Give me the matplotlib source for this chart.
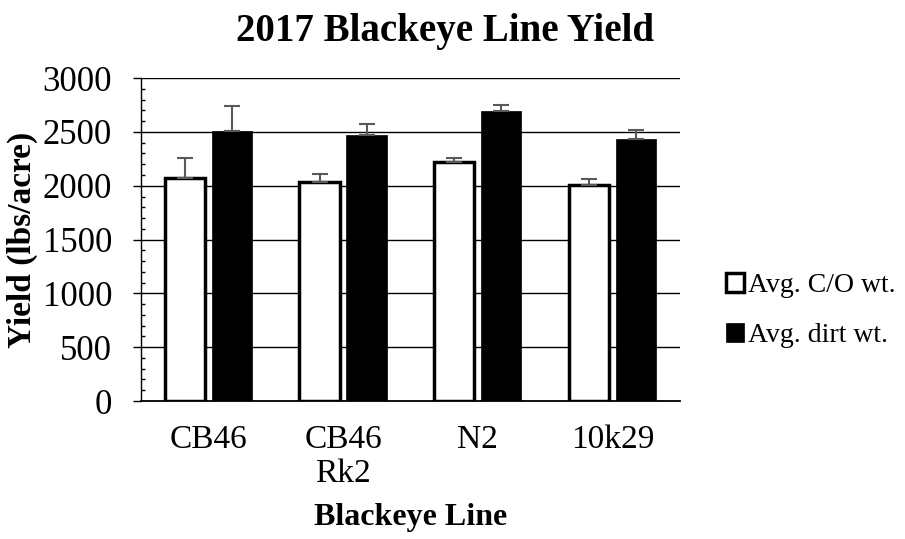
import matplotlib.pyplot as plt
import numpy as np
from matplotlib.ticker import MultipleLocator

plt.rcParams['font.family'] = ['Liberation Serif', 'DejaVu Serif']

lines = ['CB46', 'CB46\nRk2', 'N2', '10k29']
co_wt = [2070, 2036, 2222, 2006]
co_err = [190, 70, 35, 60]
dirt_wt = [2510, 2473, 2699, 2439]
dirt_err = [230, 100, 50, 75]

fig = plt.figure(figsize=(9.05, 5.39), dpi=100)
ax = fig.add_axes([0.156, 0.256, 0.595, 0.599])

x = np.arange(len(lines))
w = 0.3
off = 0.175
err_kw = dict(ecolor='#595959', elinewidth=1.5, capsize=6, capthick=1.5)

ax.bar(x - off, co_wt, w, color='white', edgecolor='black', linewidth=2.5,
       yerr=[np.zeros(4), co_err], error_kw=err_kw, label='Avg. C/O wt.', zorder=3)
ax.bar(x + off, dirt_wt, w, color='black', edgecolor='black', linewidth=0.5,
       yerr=[np.zeros(4), dirt_err], error_kw=err_kw, label='Avg. dirt wt.', zorder=3)

ax.set_xlim(-0.5, 3.5)
ax.set_ylim(0, 3000)
ax.yaxis.set_major_locator(MultipleLocator(500))
ax.yaxis.set_minor_locator(MultipleLocator(100))
ax.grid(axis='y', color='black', linewidth=1.0, zorder=0)
ax.set_axisbelow(True)

for s in ['top', 'right']:
    ax.spines[s].set_visible(False)
ax.spines['left'].set_linewidth(1.0)
ax.spines['bottom'].set_linewidth(1.3)

ax.set_xticks(x)
ax.set_xticklabels(lines, fontsize=24, linespacing=1.15)
ax.tick_params(axis='x', length=0, pad=17)
ax.tick_params(axis='y', which='major', labelsize=25, direction='out', length=6, width=1.0, pad=15)
ax.tick_params(axis='y', which='minor', direction='in', length=3, width=1.0)

fig.suptitle('2017 Blackeye Line Yield', fontsize=28, fontweight='bold', x=0.492, y=0.975)
ax.set_ylabel('Yield (lbs/acre)', fontsize=24, fontweight='bold', labelpad=3)
ax.set_xlabel('Blackeye Line', fontsize=23, fontweight='bold', labelpad=10)

ax.legend(loc='center left', bbox_to_anchor=(1.04, 0.28), frameon=False,
          fontsize=20, handlelength=0.65, handleheight=0.65, handletextpad=0.15,
          labelspacing=0.9)

fig.savefig('out.png', dpi=100)
